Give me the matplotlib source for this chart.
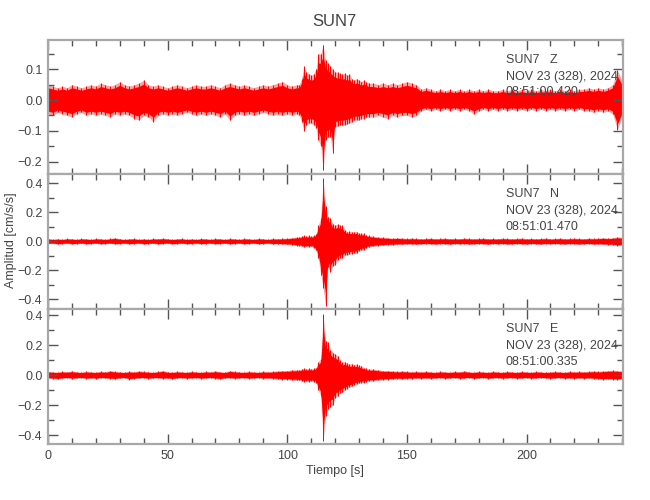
import numpy as np
import matplotlib
matplotlib.use('Agg')
import matplotlib.pyplot as plt
from matplotlib.ticker import MultipleLocator

# sample times [s]: every 2 s before/after the event, every 1 s around it
t_pre = np.arange(0, 105, 2)
t_evt = np.arange(105, 135, 1)
t_post = np.arange(136, 241, 2)

# --- Z component: upper / lower envelope [cm/s/s] ---
z_hi = [
    0.050, 0.045, 0.040, 0.045, 0.040, 0.050, 0.045, 0.040, 0.045, 0.050,
    0.045, 0.055, 0.050, 0.045, 0.050, 0.060, 0.050, 0.045, 0.050, 0.055,
    0.065, 0.050, 0.045, 0.050, 0.045, 0.040, 0.045, 0.050, 0.045, 0.040,
    0.045, 0.050, 0.045, 0.045, 0.050, 0.045, 0.040, 0.050, 0.055, 0.050,
    0.045, 0.050, 0.045, 0.040, 0.045, 0.050, 0.045, 0.050, 0.055, 0.060,
    0.050, 0.045, 0.050,
    0.050, 0.070, 0.110, 0.090, 0.085, 0.080, 0.085, 0.100, 0.150, 0.150,
    0.180, 0.130, 0.120, 0.110, 0.100, 0.092, 0.090, 0.087, 0.085, 0.087,
    0.080, 0.085, 0.070, 0.065, 0.070, 0.065, 0.060, 0.065, 0.060, 0.055,
    0.055, 0.050, 0.055, 0.050, 0.055, 0.050, 0.055, 0.060, 0.055, 0.050,
    0.035, 0.040, 0.035, 0.030, 0.035, 0.030, 0.035, 0.030, 0.035, 0.030,
    0.035, 0.030, 0.035, 0.030, 0.035, 0.030, 0.030, 0.035, 0.030, 0.035,
    0.030, 0.035, 0.030, 0.035, 0.030, 0.035, 0.030, 0.035, 0.030, 0.035,
    0.030, 0.035, 0.030, 0.035, 0.035, 0.040, 0.035, 0.040, 0.035, 0.040,
    0.050, 0.097, 0.060,
]
z_lo = [
    -0.045, -0.050, -0.040, -0.045, -0.050, -0.055, -0.045, -0.040, -0.050, -0.045,
    -0.050, -0.045, -0.050, -0.055, -0.045, -0.050, -0.045, -0.050, -0.060, -0.065,
    -0.050, -0.055, -0.070, -0.050, -0.045, -0.050, -0.045, -0.050, -0.045, -0.040,
    -0.045, -0.050, -0.045, -0.050, -0.045, -0.050, -0.055, -0.045, -0.065, -0.050,
    -0.045, -0.050, -0.045, -0.050, -0.045, -0.040, -0.045, -0.050, -0.045, -0.050,
    -0.045, -0.050, -0.045,
    -0.050, -0.070, -0.100, -0.080, -0.075, -0.075, -0.080, -0.090, -0.130, -0.150,
    -0.227, -0.130, -0.120, -0.120, -0.173, -0.087, -0.085, -0.080, -0.082, -0.080,
    -0.078, -0.075, -0.070, -0.065, -0.065, -0.065, -0.060, -0.060, -0.055, -0.055,
    -0.055, -0.050, -0.055, -0.060, -0.050, -0.055, -0.050, -0.050, -0.055, -0.050,
    -0.035, -0.030, -0.035, -0.030, -0.035, -0.030, -0.035, -0.030, -0.035, -0.030,
    -0.035, -0.045, -0.035, -0.030, -0.035, -0.030, -0.035, -0.030, -0.035, -0.030,
    -0.035, -0.030, -0.035, -0.030, -0.035, -0.030, -0.035, -0.030, -0.035, -0.030,
    -0.035, -0.030, -0.035, -0.030, -0.035, -0.035, -0.040, -0.035, -0.040, -0.035,
    -0.045, -0.097, -0.050,
]

# --- N component ---
n_hi = [
    0.020, 0.015, 0.018, 0.015, 0.020, 0.018, 0.015, 0.020, 0.018, 0.015,
    0.020, 0.018, 0.015, 0.020, 0.025, 0.018, 0.015, 0.018, 0.020, 0.015,
    0.018, 0.015, 0.020, 0.018, 0.022, 0.018, 0.015, 0.018, 0.020, 0.015,
    0.018, 0.015, 0.020, 0.018, 0.015, 0.020, 0.018, 0.015, 0.020, 0.018,
    0.015, 0.020, 0.018, 0.015, 0.020, 0.018, 0.015, 0.020, 0.018, 0.020,
    0.022, 0.025, 0.030,
    0.030, 0.035, 0.040, 0.035, 0.040, 0.035, 0.040, 0.050, 0.110, 0.160,
    0.434, 0.240, 0.170, 0.160, 0.120, 0.110, 0.120, 0.110, 0.110, 0.080,
    0.067, 0.070, 0.065, 0.067, 0.067, 0.055, 0.055, 0.055, 0.045, 0.040,
    0.035, 0.030, 0.028, 0.025, 0.022, 0.025, 0.022, 0.020, 0.022, 0.020,
    0.018, 0.020, 0.022, 0.018, 0.020, 0.022, 0.018, 0.020, 0.018, 0.022,
    0.020, 0.018, 0.020, 0.022, 0.018, 0.020, 0.018, 0.022, 0.020, 0.018,
    0.020, 0.022, 0.018, 0.020, 0.018, 0.020, 0.022, 0.018, 0.020, 0.022,
    0.018, 0.020, 0.022, 0.020, 0.018, 0.022, 0.020, 0.022, 0.025, 0.022,
    0.025, 0.030, 0.028,
]
n_lo = [
    -0.018, -0.015, -0.020, -0.018, -0.015, -0.020, -0.018, -0.015, -0.020, -0.018,
    -0.015, -0.020, -0.018, -0.015, -0.020, -0.018, -0.015, -0.020, -0.018, -0.015,
    -0.020, -0.018, -0.015, -0.020, -0.018, -0.015, -0.020, -0.018, -0.015, -0.020,
    -0.018, -0.015, -0.020, -0.018, -0.015, -0.020, -0.018, -0.015, -0.020, -0.018,
    -0.015, -0.020, -0.018, -0.015, -0.020, -0.018, -0.015, -0.020, -0.018, -0.020,
    -0.022, -0.025, -0.030,
    -0.030, -0.035, -0.040, -0.035, -0.040, -0.035, -0.045, -0.060, -0.117, -0.230,
    -0.320, -0.444, -0.175, -0.210, -0.170, -0.163, -0.130, -0.117, -0.117, -0.095,
    -0.094, -0.090, -0.085, -0.083, -0.083, -0.065, -0.060, -0.060, -0.045, -0.040,
    -0.035, -0.030, -0.028, -0.025, -0.025, -0.022, -0.022, -0.020, -0.020, -0.022,
    -0.020, -0.018, -0.020, -0.022, -0.018, -0.020, -0.022, -0.018, -0.020, -0.018,
    -0.022, -0.020, -0.018, -0.020, -0.022, -0.018, -0.020, -0.018, -0.022, -0.020,
    -0.018, -0.020, -0.022, -0.018, -0.020, -0.022, -0.018, -0.020, -0.018, -0.020,
    -0.022, -0.018, -0.020, -0.022, -0.020, -0.018, -0.022, -0.020, -0.022, -0.025,
    -0.025, -0.030, -0.028,
]

# --- E component ---
e_hi = [
    0.025, 0.022, 0.020, 0.025, 0.022, 0.028, 0.022, 0.020, 0.025, 0.022,
    0.020, 0.025, 0.022, 0.030, 0.025, 0.022, 0.020, 0.025, 0.022, 0.028,
    0.025, 0.022, 0.020, 0.025, 0.030, 0.022, 0.020, 0.025, 0.022, 0.020,
    0.025, 0.022, 0.020, 0.025, 0.022, 0.028, 0.022, 0.020, 0.030, 0.025,
    0.022, 0.020, 0.025, 0.022, 0.020, 0.025, 0.022, 0.025, 0.028, 0.030,
    0.030, 0.035, 0.035,
    0.035, 0.040, 0.045, 0.040, 0.045, 0.040, 0.045, 0.050, 0.090, 0.107,
    0.407, 0.229, 0.218, 0.170, 0.150, 0.140, 0.130, 0.100, 0.084, 0.090,
    0.080, 0.073, 0.075, 0.070, 0.073, 0.065, 0.060, 0.050, 0.045, 0.040,
    0.040, 0.035, 0.030, 0.030, 0.028, 0.025, 0.028, 0.025, 0.022, 0.025,
    0.022, 0.025, 0.022, 0.020, 0.025, 0.022, 0.020, 0.025, 0.022, 0.028,
    0.022, 0.020, 0.025, 0.022, 0.020, 0.025, 0.022, 0.020, 0.025, 0.022,
    0.020, 0.025, 0.022, 0.020, 0.025, 0.022, 0.020, 0.022, 0.025, 0.022,
    0.020, 0.025, 0.022, 0.025, 0.022, 0.025, 0.028, 0.025, 0.028, 0.030,
    0.032, 0.030, 0.028,
]
e_lo = [
    -0.022, -0.025, -0.028, -0.022, -0.020, -0.025, -0.022, -0.020, -0.025, -0.022,
    -0.025, -0.020, -0.022, -0.025, -0.028, -0.022, -0.020, -0.030, -0.025, -0.022,
    -0.020, -0.025, -0.022, -0.020, -0.025, -0.022, -0.028, -0.022, -0.020, -0.025,
    -0.022, -0.020, -0.025, -0.022, -0.020, -0.025, -0.028, -0.022, -0.020, -0.025,
    -0.022, -0.020, -0.025, -0.022, -0.020, -0.025, -0.022, -0.025, -0.028, -0.030,
    -0.030, -0.035, -0.035,
    -0.035, -0.040, -0.045, -0.040, -0.045, -0.040, -0.045, -0.050, -0.100, -0.138,
    -0.438, -0.270, -0.227, -0.210, -0.200, -0.150, -0.138, -0.120, -0.116, -0.100,
    -0.090, -0.082, -0.075, -0.065, -0.060, -0.055, -0.050, -0.050, -0.045, -0.040,
    -0.040, -0.035, -0.032, -0.030, -0.028, -0.025, -0.028, -0.025, -0.025, -0.022,
    -0.025, -0.022, -0.025, -0.022, -0.020, -0.025, -0.022, -0.020, -0.025, -0.022,
    -0.020, -0.025, -0.022, -0.020, -0.025, -0.022, -0.020, -0.025, -0.022, -0.020,
    -0.025, -0.022, -0.020, -0.025, -0.022, -0.020, -0.022, -0.025, -0.022, -0.020,
    -0.025, -0.022, -0.025, -0.022, -0.025, -0.022, -0.025, -0.028, -0.030, -0.028,
    -0.030, -0.032, -0.028,
]

components = ['Z', 'N', 'E']
start_times = ['08:51:00.420', '08:51:01.470', '08:51:00.335']
station = 'SUN7'
date_str = 'NOV 23 (328), 2024'
y_limits = [(-0.24, 0.195), (-0.467, 0.464), (-0.46, 0.44)]
y_major = [0.1, 0.2, 0.2]
y_minor = [0.05, 0.1, 0.1]

t = np.concatenate([t_pre, t_evt, t_post])
envelopes = [(z_hi, z_lo), (n_hi, n_lo), (e_hi, e_lo)]

plt.rcParams['font.family'] = ['Liberation Sans', 'DejaVu Sans']
txt_col = '#444444'
spine_col = '#a8a8a8'
fs = 9

fig = plt.figure(figsize=(6.5, 5), dpi=100)
left, width = 0.0738, 0.885
bottoms = [0.652, 0.382, 0.112]
heights = [0.268, 0.270, 0.270]

for i in range(3):
    ax = fig.add_axes([left, bottoms[i], width, heights[i]])
    hi = np.array(envelopes[i][0])
    lo = np.array(envelopes[i][1])
    # pale fringe = full extent of the trace, solid core inside it
    ax.fill_between(t, lo, hi, color='#ffa0a0', lw=0)
    ax.fill_between(t, lo * 0.8, hi * 0.8, color='red', lw=0)
    ax.vlines(t, lo, hi, color='red', lw=0.7)

    ax.set_xlim(0, 240.4)
    ax.set_ylim(*y_limits[i])
    ax.xaxis.set_major_locator(MultipleLocator(50))
    ax.xaxis.set_minor_locator(MultipleLocator(10))
    ax.yaxis.set_major_locator(MultipleLocator(y_major[i]))
    ax.yaxis.set_minor_locator(MultipleLocator(y_minor[i]))
    ax.tick_params(which='both', direction='in', top=True, right=True,
                   color='#555555', labelcolor=txt_col, labelsize=fs, pad=4)
    ax.tick_params(which='major', length=7, width=1)
    ax.tick_params(which='minor', length=4, width=1)
    if i < 2:
        ax.tick_params(labelbottom=False)
    for s in ax.spines.values():
        s.set_color(spine_col)
        s.set_linewidth(1.6)

    tx = 0.796
    ax.text(tx, 0.85, station + '   ' + components[i], transform=ax.transAxes,
            va='center', color=txt_col, fontsize=fs)
    ax.text(tx, 0.725, date_str, transform=ax.transAxes,
            va='center', color=txt_col, fontsize=fs)
    ax.text(tx, 0.61, start_times[i], transform=ax.transAxes,
            va='center', color=txt_col, fontsize=fs)

fig.text(0.515, 0.956, station, ha='center', va='center', color=txt_col, fontsize=12)
fig.text(0.515, 0.058, 'Tiempo [s]', ha='center', va='center', color=txt_col, fontsize=fs)
fig.text(0.017, 0.52, 'Amplitud [cm/s/s]', rotation=90, ha='center', va='center',
         color=txt_col, fontsize=fs)

fig.savefig('out.png', dpi=100)
